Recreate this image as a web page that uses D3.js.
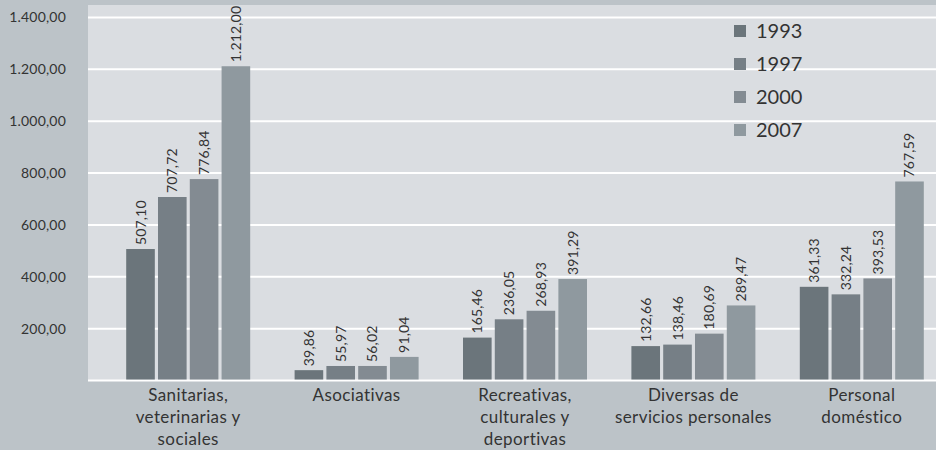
<!DOCTYPE html>
<html>
<head>
<meta charset="utf-8">
<script src="https://cdn.jsdelivr.net/npm/d3@7"></script>
<style>
  html, body { margin: 0; padding: 0; background: #bcc3c8; }
  svg { display: block; font-family: Lato, "Noto Sans", sans-serif; }
</style>
</head>
<body>
<svg id="chart" width="936" height="450"></svg>
<script>
// Sectores de actividad (etiquetas en varias líneas)
const categories = [
  ["Sanitarias,", "veterinarias y", "sociales"],
  ["Asociativas"],
  ["Recreativas,", "culturales y", "deportivas"],
  ["Diversas de", "servicios personales"],
  ["Personal", "doméstico"]
];
const years = ["1993", "1997", "2000", "2007"];
const values1993 = [507.10, 39.86, 165.46, 132.66, 361.33];
const values1997 = [707.72, 55.97, 236.05, 138.46, 332.24];
const values2000 = [776.84, 56.02, 268.93, 180.69, 393.53];
const values2007 = [1212.00, 91.04, 391.29, 289.47, 767.59];
const yTicks = [200, 400, 600, 800, 1000, 1200, 1400];
const colors = ["#6b757b", "#767f86", "#838b92", "#8f999f"];

const series = [values1993, values1997, values2000, values2007];

const svg = d3.select("#chart");
const plot = { left: 88, right: 936, top: 5, bottom: 381 };

// Número con formato español: miles con punto, decimales con coma
const fmt = d3.formatLocale({ decimal: ",", thousands: ".", grouping: [3], currency: ["", ""] }).format(",.2f");

// Fondo del área de trazado
svg.append("rect")
  .attr("x", plot.left).attr("y", plot.top)
  .attr("width", plot.right - plot.left).attr("height", plot.bottom - plot.top)
  .attr("fill", "#dadde1");

const y = d3.scaleLinear().domain([0, 1400]).range([380.5, 17.5]);

const x0 = d3.scaleBand().domain(d3.range(categories.length)).range([104, 946]).padding(0);
const x1 = d3.scaleBand().domain(d3.range(years.length)).range([0, 124]).paddingInner(0.1).paddingOuter(0);

// Líneas de cuadrícula
svg.append("g").selectAll("line").data([0].concat(yTicks)).join("line")
  .attr("x1", plot.left).attr("x2", plot.right)
  .attr("y1", d => y(d)).attr("y2", d => y(d))
  .attr("stroke", "#ffffff").attr("stroke-width", 2);

// Etiquetas del eje vertical
const yAxis = d3.axisLeft(y).tickValues(yTicks).tickFormat(fmt).tickSize(0).tickPadding(0);
const gy = svg.append("g").attr("transform", "translate(66,0)").call(yAxis);
gy.select(".domain").remove();
gy.selectAll("text").attr("font-size", 14).attr("fill", "#333")
  .attr("letter-spacing", 0.2).attr("font-family", "Lato, 'Noto Sans', sans-serif");

// Barras agrupadas
const groups = svg.append("g").selectAll("g").data(categories).join("g")
  .attr("transform", (d, i) => `translate(${x0(i) + x0.bandwidth() / 2 - 62},0)`);

groups.each(function (cat, ci) {
  const g = d3.select(this);
  years.forEach((yr, si) => {
    const v = series[si][ci];
    const bx = x1(si);
    g.append("rect")
      .attr("x", bx).attr("y", y(v))
      .attr("width", x1.bandwidth()).attr("height", y(0) - y(v) - 1)
      .attr("fill", colors[si]);
    g.append("text")
      .attr("transform", `translate(${bx + x1.bandwidth() / 2 + 5},${y(v) - 4}) rotate(-90)`)
      .attr("font-size", 14).attr("letter-spacing", 0.15).attr("fill", "#333")
      .text(fmt(v));
  });
  // Rótulo de categoría
  const t = g.append("text")
    .attr("text-anchor", "middle")
    .attr("font-size", 17).attr("letter-spacing", 0.4).attr("fill", "#333");
  cat.forEach((line, li) => {
    t.append("tspan").attr("x", 62).attr("y", 401 + li * 22).text(line);
  });
});

// Leyenda
const legend = svg.append("g").attr("transform", "translate(734,25)");
years.forEach((yr, i) => {
  legend.append("rect").attr("x", 0).attr("y", i * 33).attr("width", 12).attr("height", 12).attr("fill", colors[i]);
  legend.append("text").attr("x", 22).attr("y", i * 33 + 13)
    .attr("font-size", 20).attr("fill", "#333").text(yr);
});
</script>
</body>
</html>
